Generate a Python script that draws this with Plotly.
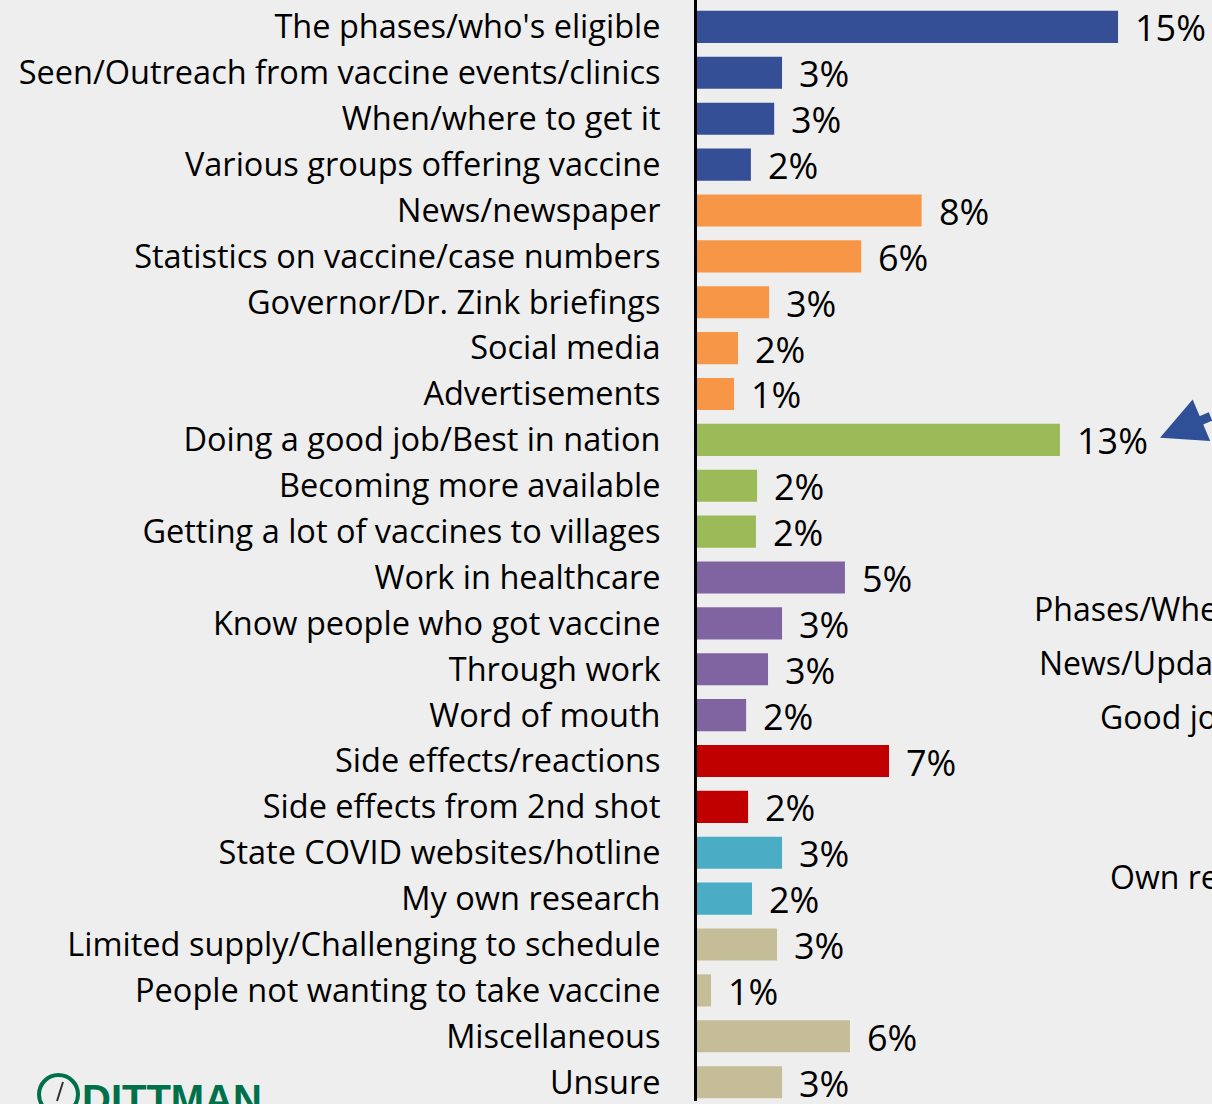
import plotly.graph_objects as go

categories = [
    "The phases/who's eligible",
    "Seen/Outreach from vaccine events/clinics",
    "When/where to get it",
    "Various groups offering vaccine",
    "News/newspaper",
    "Statistics on vaccine/case numbers",
    "Governor/Dr. Zink briefings",
    "Social media",
    "Advertisements",
    "Doing a good job/Best in nation",
    "Becoming more available",
    "Getting a lot of vaccines to villages",
    "Work in healthcare",
    "Know people who got vaccine",
    "Through work",
    "Word of mouth",
    "Side effects/reactions",
    "Side effects from 2nd shot",
    "State COVID websites/hotline",
    "My own research",
    "Limited supply/Challenging to schedule",
    "People not wanting to take vaccine",
    "Miscellaneous",
    "Unsure",
]
values = [15.0, 3.03, 2.75, 1.92, 8.0, 5.85, 2.57, 1.46, 1.32, 12.93, 2.14, 2.1,
          5.27, 3.03, 2.53, 1.75, 6.84, 1.82, 3.03, 1.96, 2.85, 0.5, 5.45, 3.03]
value_labels = ["15%", "3%", "3%", "2%", "8%", "6%", "3%", "2%", "1%", "13%", "2%", "2%",
                "5%", "3%", "3%", "2%", "7%", "2%", "3%", "2%", "3%", "1%", "6%", "3%"]
groups = ["blue"] * 4 + ["orange"] * 5 + ["green"] * 3 + ["purple"] * 4 + ["red"] * 2 + ["teal"] * 2 + ["tan"] * 4
side_notes = ["Phases/When to get it", "News/Updates", "Good job", "Own research"]

palette = {
    "blue": "#344F96",
    "orange": "#F79646",
    "green": "#9BBB59",
    "purple": "#8064A2",
    "red": "#C00000",
    "teal": "#4BACC6",
    "tan": "#C4BD97",
}

W, H = 1212, 1104
L = 697
PW = W - L
px_per_unit = 28.07

fig = go.Figure()
fig.add_trace(go.Bar(
    x=values, y=categories, orientation="h",
    marker=dict(color=[palette[g] for g in groups], line=dict(width=0)),
    hoverinfo="x+y", showlegend=False,
))

font_family = "Open Sans"

# value labels
for c, v, t in zip(categories, values, value_labels):
    fig.add_annotation(x=v, y=c, xref="x", yref="y", text=t, showarrow=False,
                       xanchor="left", yanchor="middle", xshift=15, yshift=-1,
                       font=dict(family=font_family, size=36, color="#000000"))

# side notes (cut off at right edge)
note_pos = [(1032, 610), (1037, 664), (1098, 718), (1108, 879)]
for t, (px, py) in zip(side_notes, note_pos):
    fig.add_annotation(x=(px - L) / PW, y=1 - py / H, xref="paper", yref="paper",
                       text=t, showarrow=False, xanchor="left", yanchor="middle",
                       font=dict(family=font_family, size=32, color="#000000"))

# arrow pointing to 13%
fig.add_annotation(x=(1160 - L) / px_per_unit, y=categories[9], xref="x", yref="y",
                   yshift=2, text="", showarrow=True, arrowhead=2, arrowsize=1.0,
                   arrowwidth=9, arrowcolor="#2F4F97", ax=75, ay=-22)

# logo (cut off at bottom)
fig.add_annotation(x=(80 - L) / PW, y=1 - 1078 / H, xref="paper", yref="paper",
                   text="<b>DITTMAN</b>", showarrow=False, xanchor="left", yanchor="top",
                   font=dict(family="Liberation Sans", size=40, color="#00704A"))
fig.add_shape(type="circle", xref="paper", yref="paper",
              x0=(39 - L) / PW, x1=(78 - L) / PW, y0=1 - 1117 / H, y1=1 - 1078 / H,
              line=dict(color="#00704A", width=4))
fig.add_shape(type="line", xref="paper", yref="paper",
              x0=(57 - L) / PW, x1=(63 - L) / PW, y0=1 - 1104 / H, y1=1 - 1085 / H,
              line=dict(color="#333333", width=2))

fig.update_layout(
    width=W, height=H,
    margin=dict(l=L, r=0, t=0, b=0),
    paper_bgcolor="#EEEEEE", plot_bgcolor="#EEEEEE",
    bargap=0.3,
    xaxis=dict(range=[0, PW / px_per_unit], visible=False, fixedrange=True),
    yaxis=dict(range=[23.41, -0.587], showline=True, linecolor="#000000", linewidth=3,
               ticks="", showgrid=False, zeroline=False, ticklabelstandoff=27,
               tickfont=dict(family=font_family, size=32.5, color="#000000")),
    showlegend=False,
)

fig.write_html(
    "out.html",
    config={"displayModeBar": False},
    post_script="document.body.style.margin='0';document.body.style.overflow='hidden';",
)
